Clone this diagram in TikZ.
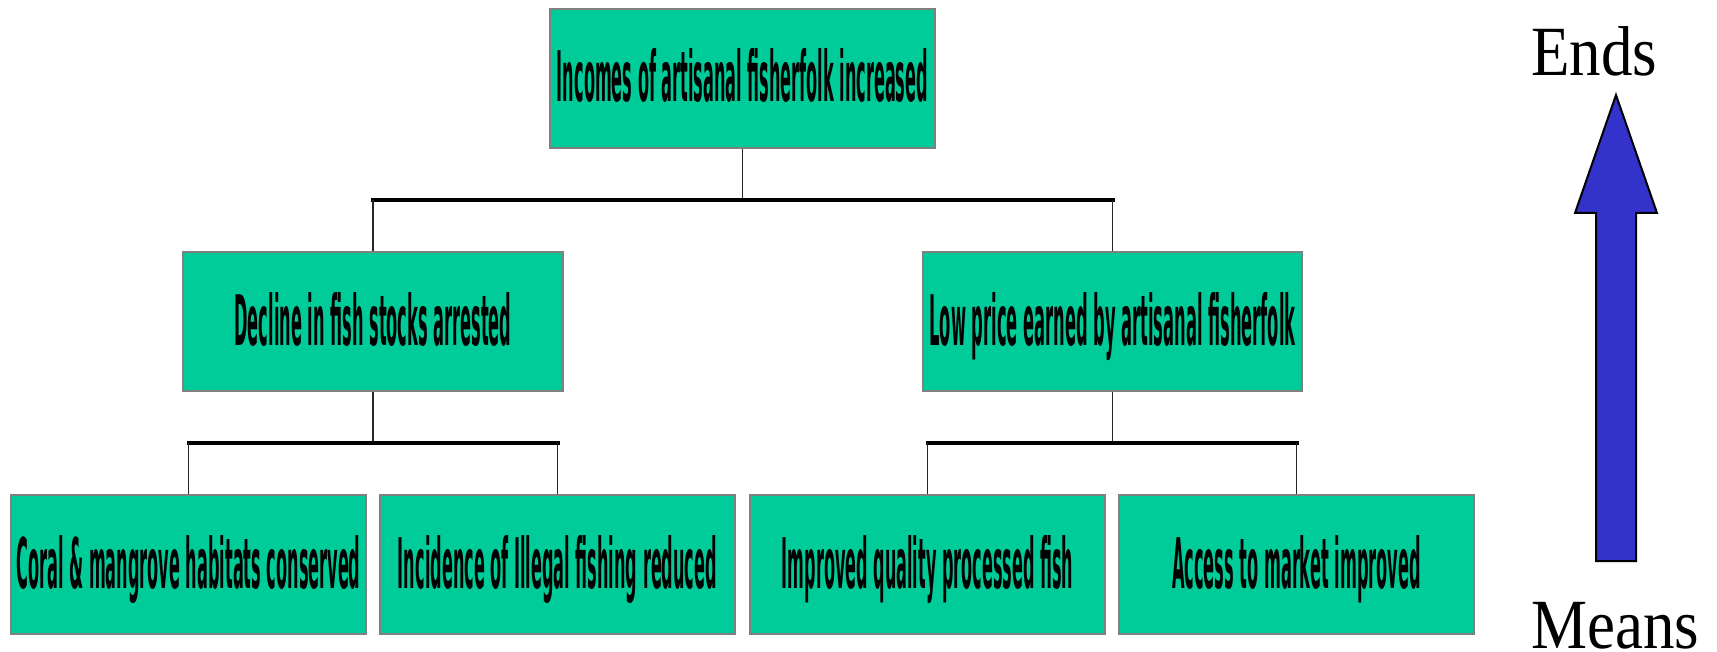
\documentclass[tikz,border=0pt]{standalone}
\usepackage{fontspec}
\setmainfont{DejaVu Sans}
\newfontfamily\serifend{Liberation Serif}
\usepackage{graphicx}
\definecolor{boxgreen}{RGB}{0,204,153}
\definecolor{boxgray}{RGB}{128,128,128}
\definecolor{arrowblue}{RGB}{51,51,204}
\newcommand\sqz[2]{\resizebox{#1pt}{53pt}{\bfseries #2}}
\begin{document}
\begin{tikzpicture}[x=1pt,y=-1pt,
  goal/.style={draw=boxgray, line width=2.5pt, fill=boxgreen, inner sep=0pt,
    minimum height=139pt, text height=53pt, text depth=6pt, align=center},
  bar/.style={line width=4pt, line cap=rect},
  stem/.style={line width=1.3pt, draw=black!85},
  endlabel/.style={inner sep=0pt, anchor=base west, font=\serifend\fontsize{63}{63}\selectfont}
]
\useasboundingbox (0,0) rectangle (1717,652);
% boxes
\node[goal, minimum width=385pt] (top) at (742.5,78.5) {\sqz{371}{Incomes of artisanal fisherfolk increased}};
\node[goal, minimum width=380pt] (ml) at (373,321.5) {\sqz{277}{Decline in fish stocks arrested}};
\node[goal, minimum width=379pt] (mr) at (1112.5,321.5) {\sqz{366}{Low price earned by artisanal fisherfolk}};
\node[goal, minimum width=355pt] (b1) at (188.5,564.5) {\sqz{344}{Coral \& mangrove habitats conserved}};
\node[goal, minimum width=355pt] (b2) at (557.5,564.5) {\sqz{319}{Incidence of Illegal fishing reduced}};
\node[goal, minimum width=355pt] (b3) at (927.5,564.5) {\sqz{291}{Improved quality processed fish}};
\node[goal, minimum width=355pt] (b4) at (1296.5,564.5) {\sqz{249}{Access to market improved}};
% junctions
\coordinate (jt) at (742.5,200);
\coordinate (jl) at (373,443);
\coordinate (jr) at (1112.5,443);
% connectors
\draw[stem] (top.south) -- (jt);
\draw[bar] (ml |- jt) -- (mr |- jt);
\draw[stem] (ml |- jt) -- (ml.north);
\draw[stem] (mr |- jt) -- (mr.north);
\draw[stem] (ml.south) -- (jl);
\draw[bar] (b1 |- jl) -- (b2 |- jl);
\draw[stem] (b1 |- jl) -- (b1.north);
\draw[stem] (b2 |- jl) -- (b2.north);
\draw[stem] (mr.south) -- (jr);
\draw[bar] (b3 |- jr) -- (b4 |- jr);
\draw[stem] (b3 |- jr) -- (b3.north);
\draw[stem] (b4 |- jr) -- (b4.north);
% means-ends arrow
\draw[fill=arrowblue, line width=2pt, line join=miter]
  (1596,561) -- (1596,213) -- (1575,213) -- (1616,95) -- (1657,213) -- (1636,213) -- (1636,561) -- cycle;
\node[endlabel] (ends) at (1531,76) {\scalebox{1}[1.12]{Ends}};
\node[endlabel] (means) at (1531,648) {\scalebox{1}[1.12]{Means}};
\end{tikzpicture}
\end{document}
